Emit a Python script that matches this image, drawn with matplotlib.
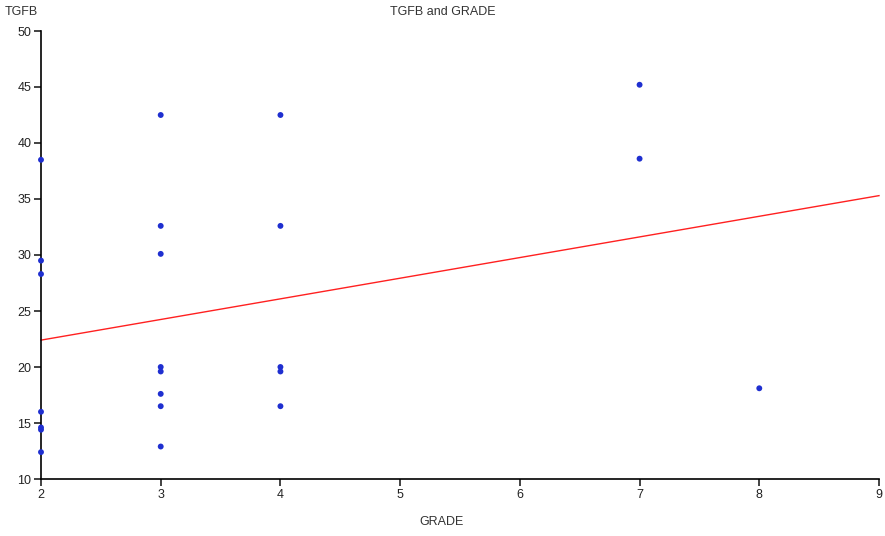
import matplotlib
matplotlib.use("Agg")
from matplotlib import pyplot as plt

plt.rcParams['font.family'] = ['Liberation Sans', 'DejaVu Sans']

# grade per sample and TGFB value
grade = [2, 2, 2, 2, 2, 2, 2,
         3, 3, 3, 3, 3, 3, 3, 3,
         4, 4, 4, 4, 4,
         7, 7,
         8]
tgfb = [38.5, 29.5, 28.3, 16.0, 14.6, 14.4, 12.4,
        42.5, 32.6, 30.1, 20.0, 19.6, 17.6, 16.5, 12.9,
        42.5, 32.6, 20.0, 19.6, 16.5,
        45.2, 38.6,
        18.1]

# fitted line end points
fit_x = [2, 9]
fit_y = [22.4, 35.3]

x_ticks = [2, 3, 4, 5, 6, 7, 8, 9]
y_ticks = [10, 15, 20, 25, 30, 35, 40, 45, 50]

fig = plt.figure(figsize=(8.85, 5.36), dpi=100)
ax = fig.add_axes([41/885, 1 - 479/536, (879-41)/885, (479-31)/536])

ax.plot(fit_x, fit_y, color='#ff2020', lw=1.0, clip_on=False, zorder=2)
ax.scatter(grade, tgfb, s=18, color='#1f2fd0', edgecolors='none', clip_on=False, zorder=3)

ax.set_xlim(2, 9)
ax.set_ylim(10, 50)
ax.set_xticks(x_ticks)
ax.set_yticks(y_ticks)
ax.spines['top'].set_visible(False)
ax.spines['right'].set_visible(False)
for s in ['left', 'bottom']:
    ax.spines[s].set_linewidth(1.2)
ax.tick_params(direction='out', length=5, width=1.2, labelsize=9, colors='#222222', pad=2)

ax.set_xlabel("GRADE", fontsize=9, color='#333333')
ax.xaxis.set_label_coords((441-41)/838, -(516-479)/448)
fig.text(5/885, 1 - 12/536, "TGFB", fontsize=9, color='#333333', va='center', ha='left')
fig.text(443/885, 1 - 12/536, "TGFB and GRADE", fontsize=9, color='#333333', va='center', ha='center')

fig.savefig("out.png", dpi=100)
